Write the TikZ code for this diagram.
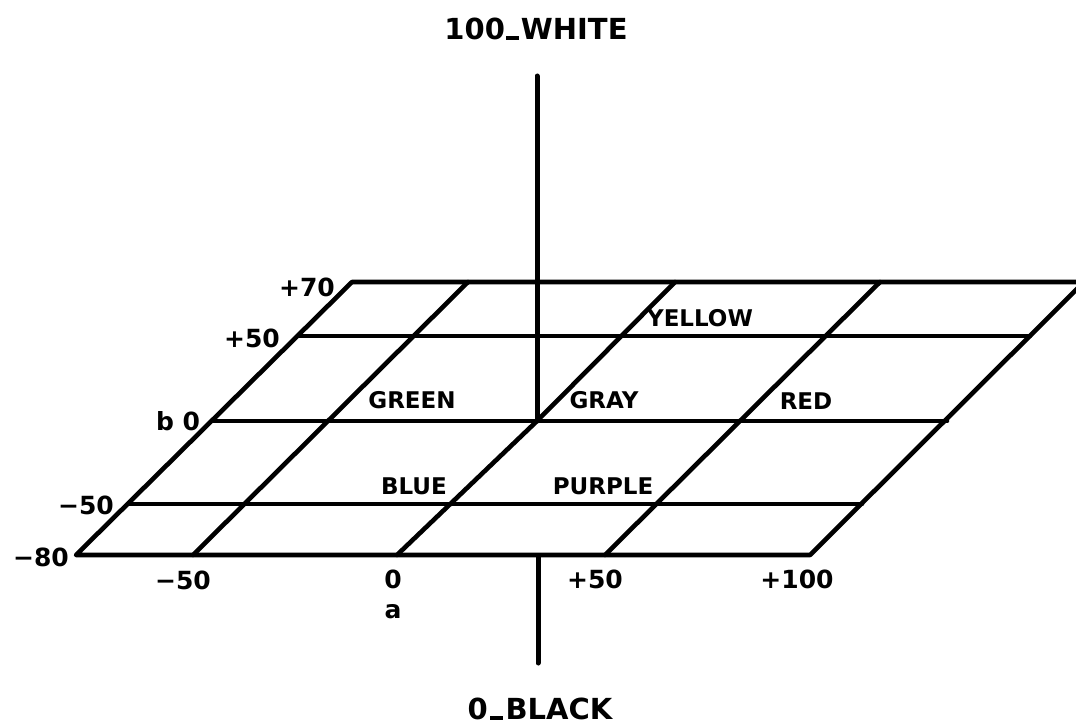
\documentclass[tikz,border=0pt]{standalone}
\usepackage{fontspec}
\setmainfont{DejaVu Sans}
\begin{document}
\begin{tikzpicture}[x=1pt,y=-1pt,
  grid/.style={line width=4.6pt, line cap=round, line join=round},
  axis/.style={line width=5pt, line cap=round},
  colorlab/.style={font=\bfseries\fontsize{23}{23}\selectfont, inner sep=0pt},
  numlab/.style={font=\bfseries\fontsize{25}{25}\selectfont, inner sep=0pt},
  titlelab/.style={font=\bfseries\fontsize{29}{29}\selectfont, inner sep=0pt}]
\path[use as bounding box, clip] (0,0) rectangle (1076,725);
\fill[white] (0,0) rectangle (1076,725);
% plane corners and grid points
\coordinate (L70) at (352,282);
\coordinate (L50) at (299,336);
\coordinate (L0) at (212,421);
\coordinate (Lm50) at (128,504);
\coordinate (Lm80) at (76,555);
\coordinate (R70) at (1084,282);
\coordinate (R50) at (1030,336);
\coordinate (R0) at (947,421);
\coordinate (Rm50) at (862,504);
\coordinate (Rm80) at (810,555);
\coordinate (Bm50) at (193,555);
\coordinate (Tm50) at (468,282);
\coordinate (B0) at (397,555);
\coordinate (gray) at (537,421);
\coordinate (T0) at (675,282);
\coordinate (B50) at (605,555);
\coordinate (T50) at (880,282);
\coordinate (axtop) at (537,76);
\coordinate (axlow) at (538,557);
\coordinate (axbot) at (538,663);
% plane
\draw[grid] (L70) -- (R70) -- (Rm80) -- (Lm80) -- cycle;
\draw[grid] (L50) -- (R50);
\draw[grid] (L0) -- (R0);
\draw[grid] (Lm50) -- (Rm50);
\draw[grid] (Bm50) -- (Tm50);
\draw[grid] (B0) -- (gray) -- (T0);
\draw[grid] (B50) -- (T50);
% lightness axis
\draw[axis] (axtop) -- (gray);
\draw[axis] (axlow) -- (axbot);
% titles
\node[titlelab] (white) at (536,29) {100\kern0.05em\rule{0.45em}{0.12em}\kern0.05em WHITE};
\node[titlelab] (black) at (540,709) {0\kern0.08em\rule{0.45em}{0.12em}\kern0.08em BLACK};
% b labels
\node[numlab] (p70) at (307,287) {+70};
\node[numlab] (p50) at (252,338) {+50};
\node[numlab] (b0) at (178,421) {b 0};
\node[numlab] (m50) at (86,505) {−50};
\node[numlab] (m80) at (41,557) {−80};
% a labels
\node[numlab] (am50) at (183,580) {−50};
\node[numlab] (a0) at (393,579) {0};
\node[numlab] (alab) at (393,612) {a};
\node[numlab] (a50) at (595,579) {+50};
\node[numlab] (a100) at (797,579) {+100};
% colour labels
\node[colorlab] (green) at (412,400) {GREEN};
\node[colorlab] (graylab) at (604,400) {GRAY};
\node[colorlab] (yellow) at (700,318) {YELLOW};
\node[colorlab] (red) at (806,401) {RED};
\node[colorlab] (blue) at (414,486) {BLUE};
\node[colorlab] (purple) at (603,486) {PURPLE};
\end{tikzpicture}
\end{document}
